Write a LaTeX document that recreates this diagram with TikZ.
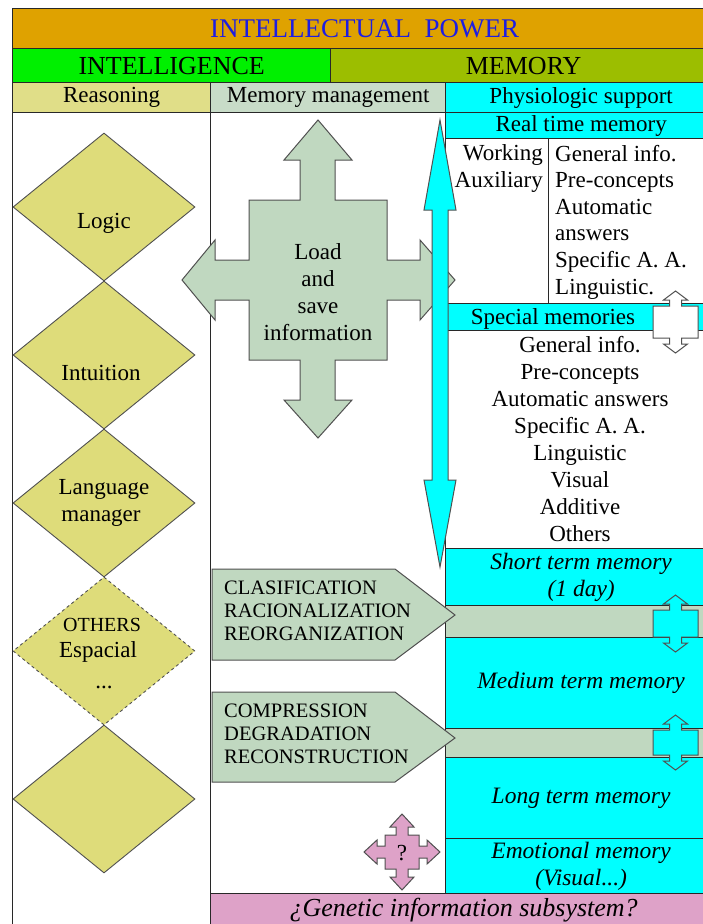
\documentclass[tikz,border=0pt]{standalone}
\usepackage{fontspec}
\setmainfont{Liberation Serif}
\usetikzlibrary{shapes.geometric}
\definecolor{orangeT}{RGB}{223,162,0}
\definecolor{blueT}{RGB}{30,30,225}
\definecolor{greenI}{RGB}{0,240,0}
\definecolor{oliveM}{RGB}{156,190,0}
\definecolor{khakiR}{RGB}{224,222,136}
\definecolor{sageM}{RGB}{200,220,200}
\definecolor{sageA}{RGB}{192,216,192}
\definecolor{cyanP}{RGB}{0,255,255}
\definecolor{pinkG}{RGB}{222,162,200}
\definecolor{diamY}{RGB}{222,220,122}
\definecolor{lineC}{RGB}{40,40,40}
\definecolor{edgeC}{RGB}{80,80,80}
\newcommand{\vdarrow}[5]{% #1 opts, #2 cx, #3 half width, #4 top, #5 bottom
  \draw[#1] (#2,{#4-15}) -- ({#2+12},{#4-6}) -- ({#2+6},{#4-6}) -- ({#2+6},#4) -- ({#2+#3},#4)
   -- ({#2+#3},#5) -- ({#2+6},#5) -- ({#2+6},{#5+6}) -- ({#2+12},{#5+6}) -- (#2,{#5+15})
   -- ({#2-12},{#5+6}) -- ({#2-6},{#5+6}) -- ({#2-6},#5) -- ({#2-#3},#5) -- ({#2-#3},#4)
   -- ({#2-6},#4) -- ({#2-6},{#4-6}) -- ({#2-12},{#4-6}) -- cycle;}
\begin{document}
\begin{tikzpicture}[x=1pt,y=-1pt,
  cell/.style={draw=lineC, line width=1.3pt, inner sep=0pt, anchor=north west},
  f25/.style={font=\fontsize{23}{26}\selectfont},
  ital/.style={font=\fontsize{23.5}{27}\selectfont\itshape},
  txt/.style={inner sep=0pt, f25},
  caps/.style={inner sep=0pt, font=\fontsize{20.5}{23}\selectfont, anchor=base west},
  shp/.style={draw=edgeC, line width=1pt, line join=miter},
  dia/.style={diamond, draw=edgeC, line width=0.9pt, fill=diamY, minimum width=182pt, minimum height=148pt, inner sep=0pt},
]
\useasboundingbox (0,0) rectangle (703,924);
\fill[white] (0,0) rectangle (703,924);

% header rows
\node[cell, fill=orangeT, minimum width=704pt, minimum height=40pt, text=blueT, font=\fontsize{27}{30}\selectfont] (title) at (12,8) {INTELLECTUAL\ \ POWER};
\node[cell, fill=greenI, minimum width=318pt, minimum height=34pt, font=\fontsize{26}{28}\selectfont] (intel) at (12,48) {INTELLIGENCE};
\node[cell, fill=oliveM, minimum width=386pt, minimum height=34pt, font=\fontsize{26}{28}\selectfont] (mem) at (330,48) {MEMORY};
\node[cell, fill=khakiR, minimum width=198pt, minimum height=30pt, f25] (reas) at (12,82) {Reasoning};
\node[cell, fill=sageM, minimum width=235pt, minimum height=30pt, f25] (mman) at (210,82) {Memory management};
\node[cell, fill=cyanP, minimum width=271pt, minimum height=30pt, f25] (phys) at (445,82) {Physiologic support};

% columns and right cells
\node[cell, fill=white, minimum width=198pt, minimum height=813pt] (lcol) at (12,112) {};
\node[cell, fill=white, minimum width=235pt, minimum height=781pt] (mcol) at (210,112) {};
\node[cell, fill=cyanP, minimum width=271pt, minimum height=26pt, f25] (rtm) at (445,112) {Real time memory};
\node[cell, fill=white, minimum width=103pt, minimum height=165pt] (rtl) at (445,138) {};
\node[cell, fill=white, minimum width=168pt, minimum height=165pt] (rtr) at (548,138) {};
\node[cell, fill=cyanP, minimum width=271pt, minimum height=27pt] (spm) at (445,303) {};
\node[cell, fill=white, minimum width=271pt, minimum height=218pt] (spl) at (445,330) {};
\node[cell, fill=cyanP, minimum width=271pt, minimum height=57pt, ital, align=center] (stm) at (445,548) {Short term memory\\(1 day)};
\node[cell, fill=sageA, minimum width=271pt, minimum height=32pt] (band1) at (445,605) {};
\node[cell, fill=cyanP, minimum width=271pt, minimum height=91pt, ital] (mtm) at (445,637) {Medium term memory};
\node[cell, fill=sageA, minimum width=271pt, minimum height=29pt] (band2) at (445,728) {};
\node[cell, fill=cyanP, minimum width=271pt, minimum height=81pt, ital] (ltm) at (445,757) {Long term memory};
\node[cell, fill=cyanP, minimum width=271pt, minimum height=55pt, ital, align=center] (emo) at (445,838) {Emotional memory\\(Visual...)};
\node[cell, fill=pinkG, minimum width=506pt, minimum height=32pt, font=\fontsize{26}{28}\selectfont\itshape] (gen) at (210,893) {¿Genetic information subsystem?};

% small double arrows
\vdarrow{shp, fill=white}{675.5}{22.5}{306}{338}
\vdarrow{shp, fill=cyanP}{675.5}{22.5}{610}{637}
\vdarrow{shp, fill=cyanP}{675.5}{22.5}{730}{755}

% load and save arrow
\draw[shp, fill=sageA] (318,120) -- (352,160) -- (335,160) -- (335,200) -- (387,200) -- (387,260)
  -- (420,260) -- (420,240) -- (455,280) -- (420,320) -- (420,300) -- (387,300) -- (387,360)
  -- (335,360) -- (335,400) -- (352,400) -- (318,438) -- (284,400) -- (300,400) -- (300,360)
  -- (249,360) -- (249,300) -- (215,300) -- (215,320) -- (182,280) -- (215,240) -- (215,260)
  -- (249,260) -- (249,200) -- (300,200) -- (300,160) -- (284,160) -- cycle;

% pentagon arrows
\draw[shp, fill=sageA] (212,569) -- (395,569) -- (455,615) -- (395,660) -- (212,660) -- cycle;
\draw[shp, fill=sageA] (212,692) -- (395,692) -- (455,738) -- (395,782) -- (212,782) -- cycle;

% big cyan double arrow
\draw[shp, fill=cyanP] (440,120) -- (456,210) -- (448,210) -- (448,480) -- (456,480) -- (440,567)
  -- (424,480) -- (432,480) -- (432,210) -- (424,210) -- cycle;

% pink question arrow
\draw[shp, fill=pinkG] (402,814) -- (414,827) -- (408,827) -- (408,835) -- (419,835) -- (419,846)
  -- (427,846) -- (427,840) -- (440,852) -- (427,864) -- (427,858) -- (419,858) -- (419,869)
  -- (408,869) -- (408,877) -- (414,877) -- (402,890) -- (390,877) -- (396,877) -- (396,869)
  -- (385,869) -- (385,858) -- (377,858) -- (377,864) -- (364,852) -- (377,840) -- (377,846)
  -- (385,846) -- (385,835) -- (396,835) -- (396,827) -- (390,827) -- cycle;
\node[txt] (qm) at (402,853) {?};

% diamonds
\node[dia] (logic) at (104,207) {};
\node[dia] (intu) at (104,355) {};
\node[dia] (lang) at (104,503) {};
\node[dia, dashed] (others) at (104,651) {};
\node[dia] (dfive) at (104,799) {};
\node[txt, anchor=base] (tlogic) at (104,228) {Logic};
\node[txt, anchor=base] (tintu) at (101,380) {Intuition};
\node[txt, anchor=base] (tlang) at (104,494) {Language};
\node[txt, anchor=base] (tman) at (101,521) {manager};
\node[txt, anchor=base, font=\fontsize{20}{25}\selectfont] (toth) at (102,631) {OTHERS};
\node[txt, anchor=base] (tesp) at (98,657) {Espacial};
\node[txt, anchor=base] (tdots) at (104,688) {...};

% real time memory contents
\node[txt, anchor=base east] (work) at (543,160) {Working};
\node[txt, anchor=base east] (aux) at (543,187) {Auxiliary};
\foreach \t [count=\i from 0] in {General info.,Pre-concepts,Automatic,answers,Specific A. A.,Linguistic.}
  \node[txt, anchor=base west] (rt\i) at (555,{161+26.6*\i}) {\t};

% special memories
\node[txt, anchor=base] (spt) at (553,324) {Special memories};
\foreach \t [count=\i from 0] in {General info.,Pre-concepts,Automatic answers,Specific A. A.,Linguistic,Visual,Additive,Others}
  \node[txt, anchor=base] (sp\i) at (580,{352+27*\i}) {\t};

% load and save text
\foreach \t [count=\i from 0] in {Load,and,save,information}
  \node[txt, anchor=base] (ld\i) at (318,{259+27.3*\i}) {\t};

% management texts
\foreach \t [count=\i from 0] in {CLASIFICATION,RACIONALIZATION,REORGANIZATION}
  \node[caps] (cl\i) at (224,{594+23*\i}) {\t};
\foreach \t [count=\i from 0] in {COMPRESSION,DEGRADATION,RECONSTRUCTION}
  \node[caps] (co\i) at (224,{717+23*\i}) {\t};
\end{tikzpicture}
\end{document}
